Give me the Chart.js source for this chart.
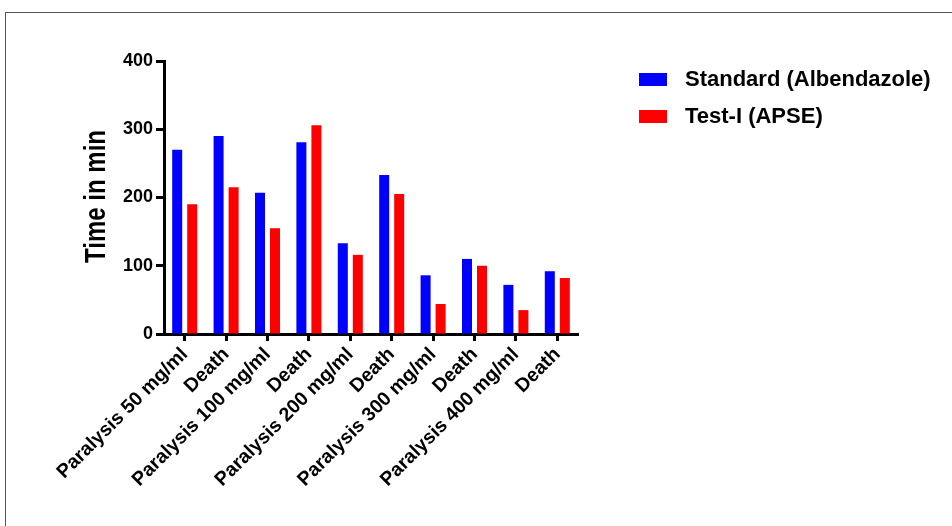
<!DOCTYPE html>
<html>
<head>
<meta charset="utf-8">
<script src="https://cdn.jsdelivr.net/npm/chart.js@4"></script>
<style>
  html, body { margin: 0; padding: 0; background: #fff; overflow: hidden; }
  #frame { position: absolute; left: 5px; top: 12px; width: 1000px; height: 600px; border: 1px solid #555; }
  #wrap { position: absolute; left: 0; top: 0; width: 952px; height: 526px; }
</style>
</head>
<body>
<div id="frame"></div>
<div id="wrap"><canvas id="c" width="952" height="526"></canvas></div>
<script>
// Anthelmintic activity: time to paralysis / death
const categories = [
  'Paralysis 50 mg/ml', 'Death',
  'Paralysis 100 mg/ml', 'Death',
  'Paralysis 200 mg/ml', 'Death',
  'Paralysis 300 mg/ml', 'Death',
  'Paralysis 400 mg/ml', 'Death'
];
const standardLabel = 'Standard (Albendazole)';
const testLabel = 'Test-I (APSE)';
const yTitle = 'Time in min';
const standardValues = [270, 290, 207, 281, 133, 233, 86, 110, 72, 92];
const testValues = [190, 215, 155, 306, 116, 205, 44, 100, 35, 82];
const yTicks = [0, 100, 200, 300, 400];

const FONT = 'Liberation Sans, Arial, sans-serif';

// legend drawn at the right, like the original figure
const sideLegend = {
  id: 'sideLegend',
  afterDraw(chart) {
    const ctx = chart.ctx;
    ctx.save();
    ctx.font = 'bold 22px ' + FONT;
    ctx.textBaseline = 'middle';
    chart.data.datasets.forEach((ds, i) => {
      const y = 73 + i * 37;
      ctx.fillStyle = ds.backgroundColor;
      ctx.fillRect(639, y, 28, 13);
      ctx.fillStyle = '#000';
      ctx.fillText(ds.label, 685, y + 7);
    });
    ctx.restore();
  }
};

// condensed vertical axis title (Prism uses a narrow face here)
const narrowTitle = {
  id: 'narrowTitle',
  afterDraw(chart) {
    const ctx = chart.ctx;
    const y = chart.scales.y;
    ctx.save();
    ctx.translate(97, (y.top + y.bottom) / 2 - 1);
    ctx.rotate(-Math.PI / 2);
    ctx.scale(0.8, 1);
    ctx.font = 'bold 30px ' + FONT;
    ctx.fillStyle = '#000';
    ctx.textAlign = 'center';
    ctx.textBaseline = 'middle';
    ctx.fillText(yTitle, 0, 0);
    ctx.restore();
  }
};

new Chart(document.getElementById('c').getContext('2d'), {
  type: 'bar',
  data: {
    labels: categories,
    datasets: [
      { label: standardLabel, data: standardValues, backgroundColor: '#0000FF', categoryPercentage: 0.725, barPercentage: 0.667 },
      { label: testLabel, data: testValues, backgroundColor: '#FF0000', categoryPercentage: 0.725, barPercentage: 0.667 }
    ]
  },
  options: {
    responsive: false,
    animation: false,
    layout: { padding: { left: 76, top: 61, right: 374, bottom: 0 } },
    plugins: { legend: { display: false }, tooltip: { enabled: false } },
    scales: {
      x: {
        afterFit: s => { s.height = 192; },
        border: { display: true, color: '#000', width: 3 },
        grid: { display: true, offset: false, drawOnChartArea: false, drawTicks: true, tickLength: 7, tickWidth: 3, tickColor: '#000' },
        ticks: { autoSkip: false, maxRotation: 45, minRotation: 45, padding: 2, color: '#000', font: { family: FONT, size: 19.5, weight: 'bold' } }
      },
      y: {
        min: 0,
        max: 400,
        afterFit: s => { s.width = 88; },
        afterBuildTicks: s => { s.ticks = yTicks.map(v => ({ value: v })); },
        border: { display: true, color: '#000', width: 3 },
        grid: { drawOnChartArea: false, drawTicks: true, tickLength: 8, tickWidth: 3, tickColor: '#000' },
        ticks: { padding: 3, color: '#000', font: { family: FONT, size: 18, weight: 'bold' } }
      }
    }
  },
  plugins: [sideLegend, narrowTitle]
});
</script>
</body>
</html>
